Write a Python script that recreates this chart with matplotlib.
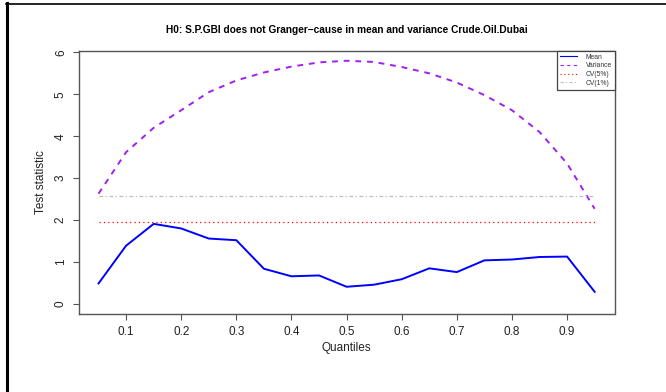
import numpy as np
import matplotlib
matplotlib.use("Agg")
import matplotlib.pyplot as plt
from matplotlib.lines import Line2D

plt.rcParams['font.family'] = ['Liberation Sans', 'DejaVu Sans']

# dados
quantiles = [0.05, 0.10, 0.15, 0.20, 0.25, 0.30, 0.35, 0.40, 0.45, 0.50,
             0.55, 0.60, 0.65, 0.70, 0.75, 0.80, 0.85, 0.90, 0.95]
mean_stat = [0.49, 1.39, 1.91, 1.80, 1.56, 1.52, 0.84, 0.66, 0.68, 0.41,
             0.46, 0.59, 0.85, 0.76, 1.04, 1.06, 1.12, 1.13, 0.29]
var_stat = [2.63, 3.62, 4.20, 4.62, 5.05, 5.33, 5.52, 5.66, 5.76, 5.80,
            5.77, 5.65, 5.50, 5.28, 4.98, 4.62, 4.10, 3.35, 2.27]
cv5 = 1.96
cv1 = 2.576
x_ticks = [0.1, 0.2, 0.3, 0.4, 0.5, 0.6, 0.7, 0.8, 0.9]
y_ticks = [0, 1, 2, 3, 4, 5, 6]

fig = plt.figure(figsize=(6.66, 3.92), dpi=100)
ax = fig.add_axes([78.7/666, 1-313.7/392, (614.5-78.7)/666, (313.7-51)/392])

ax.plot(quantiles, mean_stat, color='#0000FF', lw=1.4, label='Mean')
ax.plot(quantiles, var_stat, color='#A020F0', lw=1.4, ls=(0, (3, 3)), label='Variance')
ax.hlines(cv5, quantiles[0], quantiles[-1], color='#FF0000', lw=0.9, ls=(0, (1, 2.5)), label='CV(5%)')
ax.hlines(cv1, quantiles[0], quantiles[-1], color='#BEBEBE', lw=0.9, ls=(0, (3, 2, 1, 2)), label='CV(1%)')

# limites no estilo do R (4% de folga)
xr = quantiles[-1] - quantiles[0]
ax.set_xlim(quantiles[0] - 0.04*xr, quantiles[-1] + 0.04*xr)
ymax = max(var_stat)
ax.set_ylim(-0.04*ymax, ymax*1.04)

ax.set_xticks(x_ticks)
ax.set_xticklabels([f'{t:.1f}' for t in x_ticks])
ax.set_yticks(y_ticks)
ax.set_yticklabels([str(t) for t in y_ticks], rotation=90, va='center')
ax.tick_params(axis='both', labelsize=8.5, colors='#555555', labelcolor='#222222',
               length=4.5, width=0.8, pad=4)
for s in ax.spines.values():
    s.set_color('#555555')
    s.set_linewidth(1.0)

ax.set_xlabel('Quantiles', fontsize=8.5, color='#222222', labelpad=3)
ax.set_ylabel('Test statistic', fontsize=8.5, color='#222222', labelpad=6)
ax.set_title('H0: S.P.GBI does not Granger\u2212cause in mean and variance Crude.Oil.Dubai',
             fontsize=7.3, fontweight='bold', pad=13)

leg = ax.legend(loc='upper right', bbox_to_anchor=(1.0, 1.0), borderaxespad=0,
                fontsize=4.9, frameon=True, fancybox=False, framealpha=1,
                edgecolor='#444444', handlelength=2.6, labelspacing=0.25,
                borderpad=0.4, handletextpad=1.2)
leg.get_frame().set_linewidth(0.9)
for h in leg.get_lines():
    h.set_linewidth(0.8)
for t in leg.get_texts():
    t.set_color('#333333')

# moldura preta da celula
fig.add_artist(Line2D([7/666, 7/666], [0, 1-3/392], color='black', lw=2.2, transform=fig.transFigure))
fig.add_artist(Line2D([6/666, 1], [1-3.5/392, 1-3.5/392], color='black', lw=1.2, transform=fig.transFigure))

fig.savefig('out.png', dpi=100)
